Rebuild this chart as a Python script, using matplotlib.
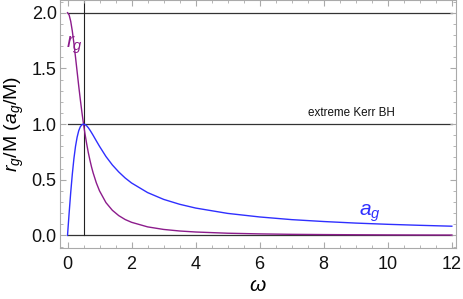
import matplotlib
matplotlib.use("Agg")
import matplotlib.pyplot as plt
from matplotlib.ticker import MultipleLocator

plt.rcParams['font.family'] = ['Liberation Sans', 'DejaVu Sans']
plt.rcParams['mathtext.fontset'] = 'custom'
plt.rcParams['mathtext.rm'] = 'Liberation Sans'
plt.rcParams['mathtext.it'] = 'Liberation Sans:italic'

# data
omega = [0, 0.05, 0.1, 0.15, 0.2, 0.25, 0.3, 0.35, 0.4, 0.45, 0.5, 0.55, 0.6, 0.65,
         0.7, 0.75, 0.8, 0.9, 1.0, 1.2, 1.4, 1.6, 1.8, 2.0, 2.5, 3.0, 3.5, 4.0,
         5.0, 6.0, 7.0, 8.0, 9.0, 10.0, 11.0, 12.0]
r_g = [2.0, 1.980, 1.923, 1.835, 1.724, 1.600, 1.471, 1.342, 1.220, 1.105, 1.0, 0.905,
       0.820, 0.743, 0.676, 0.615, 0.562, 0.472, 0.400, 0.295, 0.226, 0.178, 0.143,
       0.118, 0.077, 0.054, 0.040, 0.031, 0.020, 0.014, 0.010, 0.0078, 0.0062,
       0.0050, 0.0041, 0.0035]
a_g = [0.0, 0.198, 0.385, 0.550, 0.690, 0.800, 0.882, 0.940, 0.976, 0.994, 1.0, 0.995,
       0.984, 0.967, 0.946, 0.923, 0.899, 0.849, 0.800, 0.709, 0.633, 0.570, 0.516,
       0.471, 0.385, 0.324, 0.280, 0.246, 0.198, 0.166, 0.142, 0.125, 0.111,
       0.100, 0.091, 0.083]
hlines_y = [0.0, 1.0, 2.0]
omega_extreme = 0.5
x_ticks = [0, 2, 4, 6, 8, 10, 12]
y_ticks = [0.0, 0.5, 1.0, 1.5, 2.0]

fig = plt.figure(figsize=(4.63, 2.99), dpi=100)
ax = fig.add_axes([59.5/463, 1 - 247.7/299, (456 - 59.5)/463, 247.7/299])

for y in hlines_y:
    ax.plot([omega[0], omega[-1]], [y, y], color='#333333', lw=0.9, zorder=1)
ax.plot([omega_extreme, omega_extreme], [0, 2.3], color='#222222', lw=0.8, zorder=1)

ax.plot(omega, r_g, color='#8c1c8c', lw=1.0, zorder=3)
ax.plot(omega, a_g, color='#2f2fff', lw=1.0, zorder=3)

ax.text(0.23, 1.71, r'$r_g$', color='#8c1c8c', fontsize=15, ha='center', va='center')
ax.text(9.44, 0.20, r'$a_g$', color='#2f2fff', fontsize=15, ha='center', va='center')
ax.text(8.88, 1.096, 'extreme Kerr BH', fontsize=8.4, ha='center', va='center', color='#111111')

ax.set_xlim(-0.25, 12.13)
ax.set_ylim(-0.11, 2.114)
ax.set_xticks(x_ticks)
ax.set_yticks(y_ticks)
ax.set_yticklabels([f'{v:.1f}' for v in y_ticks])
ax.xaxis.set_minor_locator(MultipleLocator(0.5))
ax.yaxis.set_minor_locator(MultipleLocator(0.1))
ax.tick_params(which='both', direction='in', top=True, right=True, color='#aaaaaa',
               labelsize=13, labelcolor='#111111')
ax.tick_params(axis='y', pad=2)
ax.tick_params(axis='x', pad=6)
ax.tick_params(which='major', length=4)
ax.tick_params(which='minor', length=2)
for s in ax.spines.values():
    s.set_color('#aaaaaa')
    s.set_linewidth(0.8)

ax.set_xlabel(r'$\omega$', fontsize=15, labelpad=2)
ax.set_ylabel(r'$r_g$/M ($a_g$/M)', fontsize=14, labelpad=4)

fig.savefig('out.png', dpi=100)
